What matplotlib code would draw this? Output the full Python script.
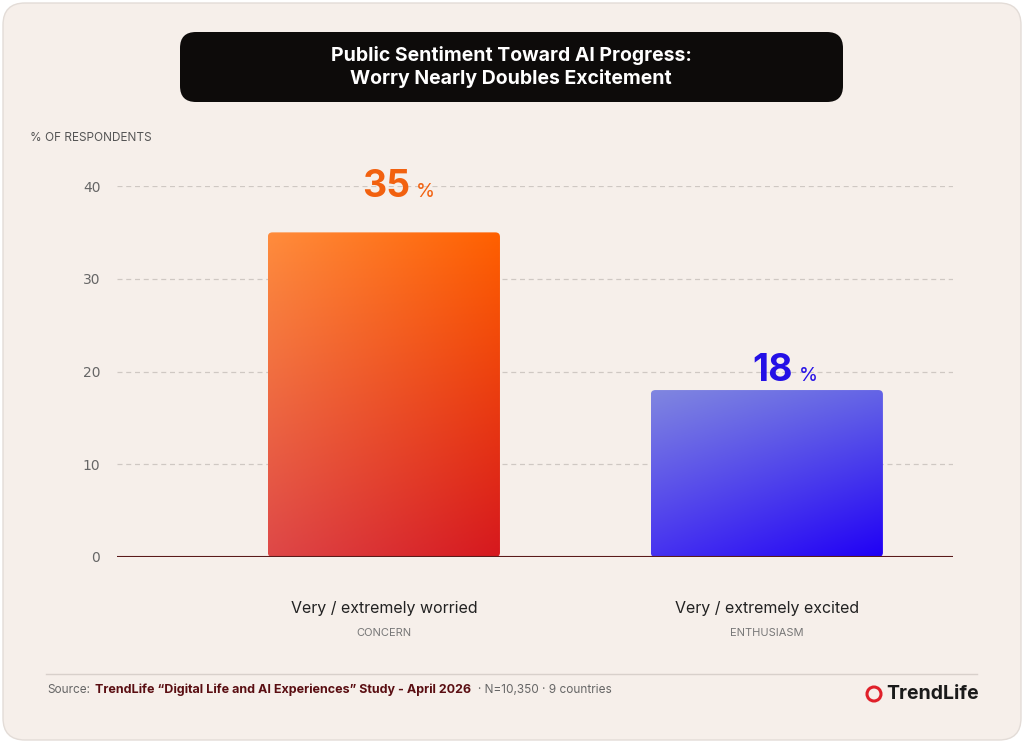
import matplotlib
matplotlib.use("Agg")
import matplotlib.pyplot as plt
import numpy as np
from matplotlib.patches import FancyBboxPatch

categories = ["Very / extremely worried", "Very / extremely excited"]
subcats = ["CONCERN", "ENTHUSIASM"]
values = [35, 18]
label_colors = ["#F2610F", "#2410E6"]
yticks = [0, 10, 20, 30, 40]

W, H = 1024, 745
fig = plt.figure(figsize=(W/100, H/100), dpi=100)
fig.patch.set_facecolor("white")
bg = fig.add_axes([0, 0, 1, 1]); bg.set_xlim(0, W); bg.set_ylim(H, 0); bg.axis("off")
bg.add_patch(FancyBboxPatch((3, 3), W-6, H-8, boxstyle="round,pad=0,rounding_size=22",
                            fc="#F6EFEA", ec="#E3DCD7", lw=1))
bg.add_patch(FancyBboxPatch((180, 32), 663, 70, boxstyle="round,pad=0,rounding_size=16",
                            fc="#0D0B0A", ec="none"))
bg.text(511, 67, "Public Sentiment Toward AI Progress:\nWorry Nearly Doubles Excitement",
        color="white", ha="center", va="center", fontsize=14, fontweight="bold",
        family="Inter", linespacing=1.3)
bg.text(30, 138, "% OF RESPONDENTS", fontsize=8.5, color="#555", va="center", family="Inter")
bg.plot([46, 977], [674, 674], color="#D8D0CB", lw=1)
bg.text(47, 690, "Source:", fontsize=8.5, color="#666", va="center", family="Inter")
bg.text(95, 690, "TrendLife \u201cDigital Life and AI Experiences\u201d Study - April 2026",
        fontsize=9, color="#5A0E12", va="center", fontweight="bold", family="Inter")
bg.text(478, 690, "\u00b7 N=10,350 \u00b7 9 countries", fontsize=8.5, color="#666", va="center", family="Inter")
bg.text(886, 694, "TrendLife", fontsize=14, color="#1A1A1A", va="center", fontweight="bold", family="Inter")
bg.add_patch(plt.Circle((874, 694), 7, fc="none", ec="#E0202A", lw=2.2))

ax = fig.add_axes([117/W, 1-557/H, (953-117)/W, (557-186)/H])
ax.set_facecolor("none")
ax.set_ylim(0, 40); ax.set_xlim(-0.697, 1.486)
ax.set_yticks(yticks)
ax.tick_params(axis="y", length=0, labelsize=10, labelcolor="#666", pad=12)
ax.set_xticks([])
for s in ax.spines.values(): s.set_visible(False)
for t in yticks[1:]:
    ax.axhline(t, color="#CFC8C3", lw=0.9, ls=(0, (4, 3)), zorder=0)
ax.axhline(0, color="#5A1A1A", lw=1.5, zorder=3)

grads = [(np.array([255, 140, 60]), np.array([255, 96, 0]), np.array([214, 24, 30]), np.array([222, 72, 72])),
         (np.array([128, 134, 224]), np.array([100, 100, 230]), np.array([32, 0, 245]), np.array([70, 50, 240]))]
label_y = [38.8, 19.0]
bw = 0.606
for i, v in enumerate(values):
    tl, tr, br, bl = [g/255 for g in grads[i]]
    n = 100
    u = np.linspace(0, 1, n)[None, :, None]
    w = np.linspace(0, 1, n)[:, None, None]
    img = (1-u)*(1-w)*tl + u*(1-w)*tr + u*w*br + (1-u)*w*bl
    patch = FancyBboxPatch((i-bw/2, 0), bw, v, boxstyle="round,pad=0,rounding_size=0.012",
                           fc="none", ec="none", mutation_aspect=40)
    ax.add_patch(patch)
    im = ax.imshow(img, extent=(i-bw/2, i+bw/2, 0, v), aspect="auto", zorder=2, origin="upper")
    im.set_clip_path(patch)
    ax.text(i+0.068, label_y[i], f"{v}", ha="right", va="baseline", fontsize=27, fontweight="bold",
            color=label_colors[i], family="Inter")
    ax.text(i+0.083, label_y[i], "%", ha="left", va="baseline", fontsize=14, color=label_colors[i], family="Inter")
    ax.text(i, -5.6, categories[i], ha="center", va="center", fontsize=11.5, color="#222", family="Inter")
    ax.text(i, -8.2, subcats[i], ha="center", va="center", fontsize=8, color="#777", family="Inter")
ax.set_xlim(-0.697, 1.486); ax.set_ylim(0, 40)
fig.savefig("out.png", dpi=100)
